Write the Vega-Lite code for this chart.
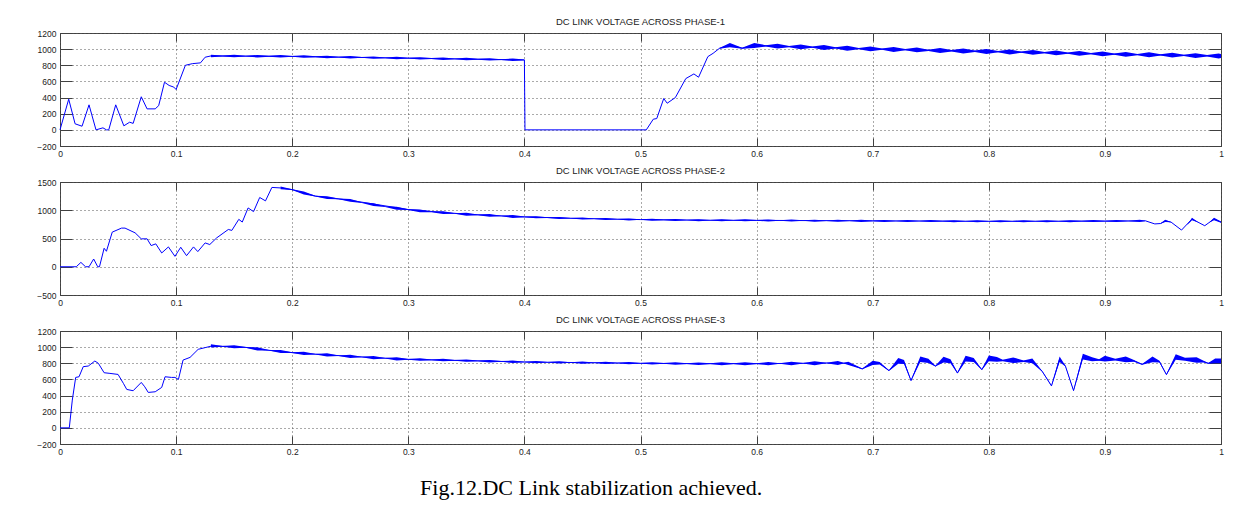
{
  "$schema": "https://vega.github.io/schema/vega-lite/v6.json",
  "background": "white",
  "padding": {"left": 36, "top": 16, "right": 20, "bottom": 10},
  "spacing": 7,
  "title": {"text": "Fig.12.DC Link stabilization achieved.", "orient": "bottom", "anchor": "middle", "font": "Liberation Serif", "fontSize": 22, "fontWeight": "normal", "color": "#000", "offset": 22, "dx": -39},
  "datasets": {
    "l1": [{"t":0,"v":0},{"t":0.0075,"v":380},{"t":0.013,"v":75},{"t":0.019,"v":45},{"t":0.025,"v":310},{"t":0.031,"v":0},{"t":0.037,"v":25},{"t":0.04,"v":0},{"t":0.042,"v":0},{"t":0.048,"v":310},{"t":0.055,"v":50},{"t":0.06,"v":95},{"t":0.063,"v":80},{"t":0.07,"v":410},{"t":0.075,"v":260},{"t":0.082,"v":260},{"t":0.085,"v":300},{"t":0.09,"v":590},{"t":0.094,"v":550},{"t":0.098,"v":530},{"t":0.1,"v":500},{"t":0.108,"v":800},{"t":0.114,"v":820},{"t":0.121,"v":830},{"t":0.125,"v":900},{"t":0.13,"v":916},{"t":0.2,"v":910},{"t":0.3,"v":888},{"t":0.4,"v":866},{"t":0.4005,"v":0},{"t":0.505,"v":0},{"t":0.511,"v":132},{"t":0.514,"v":140},{"t":0.52,"v":388},{"t":0.523,"v":330},{"t":0.53,"v":400},{"t":0.539,"v":635},{"t":0.546,"v":693},{"t":0.55,"v":652},{"t":0.558,"v":907},{"t":0.5625,"v":948},{"t":0.568,"v":1010},{"t":0.577,"v":1050},{"t":0.5875,"v":1012},{"t":0.598,"v":1045},{"t":0.7,"v":1002},{"t":0.8,"v":970},{"t":0.9,"v":940},{"t":1,"v":915}],
    "b1": [{"s":"a","t":0.13,"lo":901,"hi":931},{"s":"a","t":0.14,"lo":910,"hi":920},{"s":"a","t":0.15,"lo":899,"hi":929},{"s":"a","t":0.16,"lo":908,"hi":918},{"s":"a","t":0.17,"lo":897,"hi":927},{"s":"a","t":0.18,"lo":907,"hi":917},{"s":"a","t":0.19,"lo":896,"hi":926},{"s":"a","t":0.2,"lo":905,"hi":915},{"s":"a","t":0.21,"lo":893,"hi":923},{"s":"a","t":0.22,"lo":901,"hi":911},{"s":"a","t":0.23,"lo":888,"hi":918},{"s":"a","t":0.24,"lo":896,"hi":906},{"s":"a","t":0.25,"lo":884,"hi":914},{"s":"a","t":0.26,"lo":892,"hi":902},{"s":"a","t":0.27,"lo":880,"hi":910},{"s":"a","t":0.28,"lo":887,"hi":897},{"s":"a","t":0.29,"lo":875,"hi":905},{"s":"a","t":0.3,"lo":883,"hi":893},{"s":"a","t":0.31,"lo":871,"hi":901},{"s":"a","t":0.32,"lo":879,"hi":889},{"s":"a","t":0.33,"lo":866,"hi":896},{"s":"a","t":0.34,"lo":874,"hi":884},{"s":"a","t":0.35,"lo":862,"hi":892},{"s":"a","t":0.36,"lo":870,"hi":880},{"s":"a","t":0.37,"lo":858,"hi":888},{"s":"a","t":0.38,"lo":865,"hi":875},{"s":"a","t":0.39,"lo":853,"hi":883},{"s":"a","t":0.4,"lo":861,"hi":871},
      {"s":"b","t":0.568,"lo":1005,"hi":1015},{"s":"b","t":0.577,"lo":1025,"hi":1075},{"s":"b","t":0.5875,"lo":1006,"hi":1018},{"s":"b","t":0.598,"lo":1015,"hi":1075},{"s":"b","t":0.608,"lo":1033,"hi":1049},{"s":"b","t":0.618,"lo":1007,"hi":1067},{"s":"b","t":0.628,"lo":1024,"hi":1040},{"s":"b","t":0.638,"lo":998,"hi":1058},{"s":"b","t":0.648,"lo":1016,"hi":1032},{"s":"b","t":0.658,"lo":990,"hi":1050},{"s":"b","t":0.668,"lo":1007,"hi":1023},{"s":"b","t":0.678,"lo":981,"hi":1041},{"s":"b","t":0.688,"lo":999,"hi":1015},{"s":"b","t":0.698,"lo":973,"hi":1033},{"s":"b","t":0.708,"lo":991,"hi":1007},{"s":"b","t":0.718,"lo":966,"hi":1026},{"s":"b","t":0.728,"lo":985,"hi":1001},{"s":"b","t":0.738,"lo":960,"hi":1020},{"s":"b","t":0.748,"lo":978,"hi":994},{"s":"b","t":0.758,"lo":953,"hi":1013},{"s":"b","t":0.768,"lo":972,"hi":988},{"s":"b","t":0.778,"lo":947,"hi":1007},{"s":"b","t":0.788,"lo":966,"hi":982},{"s":"b","t":0.798,"lo":941,"hi":1001},{"s":"b","t":0.808,"lo":960,"hi":976},{"s":"b","t":0.818,"lo":935,"hi":995},{"s":"b","t":0.828,"lo":954,"hi":970},{"s":"b","t":0.838,"lo":929,"hi":989},{"s":"b","t":0.848,"lo":948,"hi":964},{"s":"b","t":0.858,"lo":923,"hi":983},{"s":"b","t":0.868,"lo":942,"hi":958},{"s":"b","t":0.878,"lo":917,"hi":977},{"s":"b","t":0.888,"lo":936,"hi":952},{"s":"b","t":0.898,"lo":911,"hi":971},{"s":"b","t":0.908,"lo":930,"hi":946},{"s":"b","t":0.918,"lo":905,"hi":965},{"s":"b","t":0.928,"lo":925,"hi":941},{"s":"b","t":0.938,"lo":900,"hi":960},{"s":"b","t":0.948,"lo":920,"hi":936},{"s":"b","t":0.958,"lo":895,"hi":955},{"s":"b","t":0.968,"lo":915,"hi":931},{"s":"b","t":0.978,"lo":890,"hi":950},{"s":"b","t":0.988,"lo":910,"hi":926},{"s":"b","t":0.998,"lo":885,"hi":945},{"s":"b","t":1,"lo":890,"hi":940}],
    "l2": [{"t":0,"v":0},{"t":0.014,"v":0},{"t":0.018,"v":77},{"t":0.022,"v":0},{"t":0.025,"v":0},{"t":0.029,"v":137},{"t":0.0325,"v":0},{"t":0.034,"v":0},{"t":0.038,"v":327},{"t":0.04,"v":274},{"t":0.045,"v":613},{"t":0.053,"v":684},{"t":0.056,"v":684},{"t":0.0647,"v":600},{"t":0.07,"v":494},{"t":0.075,"v":494},{"t":0.0785,"v":375},{"t":0.0825,"v":405},{"t":0.0876,"v":244},{"t":0.0934,"v":351},{"t":0.099,"v":184},{"t":0.104,"v":345},{"t":0.109,"v":196},{"t":0.115,"v":351},{"t":0.1187,"v":268},{"t":0.125,"v":422},{"t":0.129,"v":393},{"t":0.135,"v":512},{"t":0.145,"v":660},{"t":0.148,"v":643},{"t":0.154,"v":839},{"t":0.157,"v":791},{"t":0.162,"v":1041},{"t":0.1667,"v":976},{"t":0.172,"v":1226},{"t":0.177,"v":1166},{"t":0.1825,"v":1404},{"t":0.19,"v":1395},{"t":0.2,"v":1365},{"t":0.21,"v":1305},{"t":0.22,"v":1250},{"t":0.25,"v":1176},{"t":0.3,"v":1012},{"t":0.35,"v":929},{"t":0.4,"v":882},{"t":0.45,"v":853},{"t":0.5,"v":835},{"t":0.55,"v":824},{"t":0.6,"v":821},{"t":0.7,"v":812},{"t":0.8,"v":805},{"t":0.9,"v":808},{"t":0.935,"v":812},{"t":0.943,"v":758},{"t":0.948,"v":765},{"t":0.952,"v":812},{"t":0.957,"v":790},{"t":0.966,"v":649},{"t":0.975,"v":845},{"t":0.986,"v":726},{"t":0.994,"v":845},{"t":1,"v":790}],
    "b2": [{"s":"a","t":0.19,"lo":1370,"hi":1420},{"s":"a","t":0.2,"lo":1359,"hi":1371},{"s":"a","t":0.21,"lo":1280,"hi":1330},{"s":"a","t":0.22,"lo":1244,"hi":1256},{"s":"a","t":0.23,"lo":1200,"hi":1250},{"s":"a","t":0.24,"lo":1194,"hi":1206},{"s":"a","t":0.25,"lo":1151,"hi":1201},{"s":"a","t":0.26,"lo":1129,"hi":1141},{"s":"a","t":0.27,"lo":1075,"hi":1125},{"s":"a","t":0.28,"lo":1059,"hi":1071},{"s":"a","t":0.29,"lo":1010,"hi":1060},{"s":"a","t":0.3,"lo":1006,"hi":1018},{"s":"a","t":0.31,"lo":965,"hi":1015},{"s":"a","t":0.32,"lo":966,"hi":978},{"s":"a","t":0.33,"lo":932,"hi":982},{"s":"a","t":0.34,"lo":936,"hi":948},{"s":"a","t":0.35,"lo":904,"hi":954},{"s":"a","t":0.36,"lo":912,"hi":924},{"s":"a","t":0.37,"lo":883,"hi":933},{"s":"a","t":0.38,"lo":892,"hi":904},{"s":"a","t":0.39,"lo":865,"hi":915},{"s":"a","t":0.4,"lo":876,"hi":888},{"s":"a","t":0.41,"lo":858,"hi":894},{"s":"a","t":0.42,"lo":865,"hi":875},{"s":"a","t":0.43,"lo":846,"hi":882},{"s":"a","t":0.44,"lo":853,"hi":863},{"s":"a","t":0.45,"lo":835,"hi":871},{"s":"a","t":0.46,"lo":844,"hi":854},{"s":"a","t":0.47,"lo":827,"hi":863},{"s":"a","t":0.48,"lo":836,"hi":846},{"s":"a","t":0.49,"lo":820,"hi":856},{"s":"a","t":0.5,"lo":830,"hi":840},{"s":"a","t":0.51,"lo":815,"hi":851},{"s":"a","t":0.52,"lo":825,"hi":835},{"s":"a","t":0.53,"lo":810,"hi":846},{"s":"a","t":0.54,"lo":821,"hi":831},{"s":"a","t":0.55,"lo":806,"hi":842},{"s":"a","t":0.56,"lo":818,"hi":828},{"s":"a","t":0.57,"lo":805,"hi":841},{"s":"a","t":0.58,"lo":817,"hi":827},{"s":"a","t":0.59,"lo":804,"hi":840},{"s":"a","t":0.6,"lo":816,"hi":826},{"s":"a","t":0.61,"lo":802,"hi":838},{"s":"a","t":0.62,"lo":814,"hi":824},{"s":"a","t":0.63,"lo":800,"hi":836},{"s":"a","t":0.64,"lo":812,"hi":822},{"s":"a","t":0.65,"lo":798,"hi":834},{"s":"a","t":0.66,"lo":810,"hi":820},{"s":"a","t":0.67,"lo":796,"hi":832},{"s":"a","t":0.68,"lo":808,"hi":818},{"s":"a","t":0.69,"lo":794,"hi":830},{"s":"a","t":0.7,"lo":807,"hi":817},{"s":"a","t":0.71,"lo":793,"hi":829},{"s":"a","t":0.72,"lo":805,"hi":815},{"s":"a","t":0.73,"lo":792,"hi":828},{"s":"a","t":0.74,"lo":804,"hi":814},{"s":"a","t":0.75,"lo":790,"hi":826},{"s":"a","t":0.76,"lo":803,"hi":813},{"s":"a","t":0.77,"lo":789,"hi":825},{"s":"a","t":0.78,"lo":801,"hi":811},{"s":"a","t":0.79,"lo":788,"hi":824},{"s":"a","t":0.8,"lo":800,"hi":810},{"s":"a","t":0.81,"lo":787,"hi":823},{"s":"a","t":0.82,"lo":800,"hi":810},{"s":"a","t":0.83,"lo":788,"hi":824},{"s":"a","t":0.84,"lo":801,"hi":811},{"s":"a","t":0.85,"lo":788,"hi":824},{"s":"a","t":0.86,"lo":801,"hi":811},{"s":"a","t":0.87,"lo":789,"hi":825},{"s":"a","t":0.88,"lo":802,"hi":812},{"s":"a","t":0.89,"lo":790,"hi":826},{"s":"a","t":0.9,"lo":803,"hi":813},{"s":"a","t":0.91,"lo":791,"hi":827},{"s":"a","t":0.92,"lo":805,"hi":815},{"s":"a","t":0.93,"lo":794,"hi":830},{"s":"a","t":0.935,"lo":808,"hi":816},
      {"s":"c","t":0.948,"lo":762,"hi":768},{"s":"c","t":0.952,"lo":792,"hi":832},{"s":"c","t":0.957,"lo":787,"hi":793},
      {"s":"d","t":0.971,"lo":737,"hi":743},{"s":"d","t":0.975,"lo":823,"hi":867},{"s":"d","t":0.98,"lo":788,"hi":794},
      {"s":"e","t":0.99,"lo":782,"hi":788},{"s":"e","t":0.994,"lo":823,"hi":867},{"s":"e","t":1,"lo":778,"hi":802}],
    "l3": [{"t":0,"v":0},{"t":0.008,"v":0},{"t":0.0106,"v":344},{"t":0.0135,"v":625},{"t":0.0164,"v":633},{"t":0.02,"v":758},{"t":0.0244,"v":766},{"t":0.03,"v":828},{"t":0.033,"v":800},{"t":0.038,"v":683},{"t":0.043,"v":675},{"t":0.05,"v":662},{"t":0.0546,"v":551},{"t":0.0575,"v":476},{"t":0.063,"v":460},{"t":0.07,"v":563},{"t":0.073,"v":509},{"t":0.076,"v":439},{"t":0.082,"v":447},{"t":0.0876,"v":501},{"t":0.0905,"v":633},{"t":0.096,"v":625},{"t":0.099,"v":625},{"t":0.102,"v":600},{"t":0.106,"v":840},{"t":0.112,"v":873},{"t":0.119,"v":973},{"t":0.125,"v":994},{"t":0.131,"v":1015},{"t":0.15,"v":1005},{"t":0.16,"v":997},{"t":0.177,"v":965},{"t":0.2,"v":932},{"t":0.25,"v":886},{"t":0.3,"v":849},{"t":0.35,"v":833},{"t":0.4,"v":816},{"t":0.45,"v":808},{"t":0.5,"v":800},{"t":0.55,"v":795},{"t":0.6,"v":795},{"t":0.64,"v":800},{"t":0.66,"v":803},{"t":0.679,"v":800},{"t":0.691,"v":730},{"t":0.7,"v":805},{"t":0.706,"v":800},{"t":0.714,"v":710},{"t":0.722,"v":830},{"t":0.727,"v":815},{"t":0.733,"v":586},{"t":0.741,"v":850},{"t":0.748,"v":830},{"t":0.754,"v":765},{"t":0.761,"v":845},{"t":0.767,"v":825},{"t":0.773,"v":680},{"t":0.78,"v":857},{"t":0.787,"v":840},{"t":0.794,"v":722},{"t":0.8,"v":860},{"t":0.807,"v":849},{"t":0.812,"v":835},{"t":0.821,"v":837},{"t":0.83,"v":825},{"t":0.8375,"v":830},{"t":0.846,"v":700},{"t":0.854,"v":520},{"t":0.861,"v":850},{"t":0.866,"v":765},{"t":0.873,"v":461},{"t":0.881,"v":882},{"t":0.889,"v":849},{"t":0.895,"v":840},{"t":0.9,"v":857},{"t":0.909,"v":845},{"t":0.918,"v":849},{"t":0.925,"v":830},{"t":0.932,"v":787},{"t":0.941,"v":849},{"t":0.947,"v":820},{"t":0.953,"v":660},{"t":0.961,"v":878},{"t":0.969,"v":850},{"t":0.979,"v":841},{"t":0.985,"v":820},{"t":0.989,"v":800},{"t":0.995,"v":830},{"t":1,"v":830}],
    "b3": [{"s":"a","t":0.13,"lo":995,"hi":1035},{"s":"a","t":0.14,"lo":1006,"hi":1014},{"s":"a","t":0.15,"lo":985,"hi":1025},{"s":"a","t":0.16,"lo":993,"hi":1001},{"s":"a","t":0.17,"lo":958,"hi":998},{"s":"a","t":0.18,"lo":957,"hi":965},{"s":"a","t":0.19,"lo":926,"hi":966},{"s":"a","t":0.2,"lo":928,"hi":936},{"s":"a","t":0.21,"lo":902,"hi":942},{"s":"a","t":0.22,"lo":908,"hi":916},{"s":"a","t":0.23,"lo":883,"hi":923},{"s":"a","t":0.24,"lo":890,"hi":898},{"s":"a","t":0.25,"lo":866,"hi":906},{"s":"a","t":0.26,"lo":874,"hi":882},{"s":"a","t":0.27,"lo":850,"hi":890},{"s":"a","t":0.28,"lo":858,"hi":866},{"s":"a","t":0.29,"lo":835,"hi":875},{"s":"a","t":0.3,"lo":845,"hi":853},{"s":"a","t":0.31,"lo":831,"hi":861},{"s":"a","t":0.32,"lo":839,"hi":847},{"s":"a","t":0.33,"lo":825,"hi":855},{"s":"a","t":0.34,"lo":832,"hi":840},{"s":"a","t":0.35,"lo":818,"hi":848},{"s":"a","t":0.36,"lo":825,"hi":833},{"s":"a","t":0.37,"lo":811,"hi":841},{"s":"a","t":0.38,"lo":819,"hi":827},{"s":"a","t":0.39,"lo":804,"hi":834},{"s":"a","t":0.4,"lo":812,"hi":820},{"s":"a","t":0.41,"lo":799,"hi":829},{"s":"a","t":0.42,"lo":809,"hi":817},{"s":"a","t":0.43,"lo":796,"hi":826},{"s":"a","t":0.44,"lo":806,"hi":814},{"s":"a","t":0.45,"lo":793,"hi":823},{"s":"a","t":0.46,"lo":802,"hi":810},{"s":"a","t":0.47,"lo":790,"hi":820},{"s":"a","t":0.48,"lo":799,"hi":807},{"s":"a","t":0.49,"lo":787,"hi":817},{"s":"a","t":0.5,"lo":796,"hi":804},{"s":"a","t":0.51,"lo":784,"hi":814},{"s":"a","t":0.52,"lo":794,"hi":802},{"s":"a","t":0.53,"lo":782,"hi":812},{"s":"a","t":0.54,"lo":792,"hi":800},{"s":"a","t":0.55,"lo":780,"hi":810},{"s":"a","t":0.56,"lo":791,"hi":799},{"s":"a","t":0.57,"lo":777,"hi":813},{"s":"a","t":0.58,"lo":791,"hi":799},{"s":"a","t":0.59,"lo":777,"hi":813},{"s":"a","t":0.6,"lo":791,"hi":799},{"s":"a","t":0.61,"lo":776,"hi":816},{"s":"a","t":0.62,"lo":793,"hi":801},{"s":"a","t":0.63,"lo":776,"hi":820},{"s":"a","t":0.64,"lo":796,"hi":804},{"s":"a","t":0.65,"lo":777,"hi":825},{"s":"a","t":0.66,"lo":799,"hi":807},{"s":"a","t":0.67,"lo":779,"hi":827},{"s":"a","t":0.675,"lo":798,"hi":806},{"s":"a","t":0.679,"lo":780,"hi":820},{"s":"a","t":0.691,"lo":725,"hi":735},{"s":"a","t":0.7,"lo":780,"hi":830},{"s":"a","t":0.706,"lo":785,"hi":815},{"s":"a","t":0.714,"lo":705,"hi":715},{"s":"a","t":0.722,"lo":795,"hi":865},{"s":"a","t":0.727,"lo":790,"hi":840},{"s":"a","t":0.733,"lo":581,"hi":591},{"s":"a","t":0.741,"lo":815,"hi":885},{"s":"a","t":0.748,"lo":805,"hi":855},{"s":"a","t":0.754,"lo":760,"hi":770},{"s":"a","t":0.761,"lo":810,"hi":880},{"s":"a","t":0.767,"lo":800,"hi":850},{"s":"a","t":0.773,"lo":675,"hi":685},{"s":"a","t":0.78,"lo":822,"hi":892},{"s":"a","t":0.787,"lo":815,"hi":865},{"s":"a","t":0.794,"lo":717,"hi":727},{"s":"a","t":0.8,"lo":825,"hi":895},{"s":"a","t":0.807,"lo":819,"hi":879},{"s":"a","t":0.812,"lo":825,"hi":845},{"s":"a","t":0.821,"lo":802,"hi":872},{"s":"a","t":0.83,"lo":815,"hi":835},{"s":"a","t":0.8375,"lo":800,"hi":860},{"s":"a","t":0.846,"lo":695,"hi":705},{"s":"a","t":0.854,"lo":515,"hi":525},{"s":"a","t":0.861,"lo":815,"hi":885},{"s":"a","t":0.866,"lo":760,"hi":770},{"s":"a","t":0.873,"lo":456,"hi":466},{"s":"a","t":0.881,"lo":847,"hi":917},{"s":"a","t":0.889,"lo":824,"hi":874},{"s":"a","t":0.895,"lo":830,"hi":850},{"s":"a","t":0.9,"lo":822,"hi":892},{"s":"a","t":0.909,"lo":835,"hi":855},{"s":"a","t":0.918,"lo":814,"hi":884},{"s":"a","t":0.925,"lo":820,"hi":840},{"s":"a","t":0.932,"lo":782,"hi":792},{"s":"a","t":0.941,"lo":814,"hi":884},{"s":"a","t":0.947,"lo":810,"hi":830},{"s":"a","t":0.953,"lo":655,"hi":665},{"s":"a","t":0.961,"lo":843,"hi":913},{"s":"a","t":0.969,"lo":830,"hi":870},{"s":"a","t":0.979,"lo":806,"hi":876},{"s":"a","t":0.985,"lo":810,"hi":830},{"s":"a","t":0.989,"lo":795,"hi":805},{"s":"a","t":0.995,"lo":800,"hi":860},{"s":"a","t":1,"lo":800,"hi":860}]
  },
  "config": {
    "view": {"stroke": "#404040", "strokeWidth": 1},
    "axis": {"labelFont": "Liberation Sans", "labelFontSize": 8.5, "labelColor": "#222", "tickColor": "#404040", "domain": false, "title": null, "gridColor": "#555", "gridDash": [1, 3], "gridOpacity": 1, "gridWidth": 1, "labelFlush": false},
    "title": {"font": "Liberation Sans", "fontSize": 9.5, "fontWeight": "normal", "color": "#222", "offset": 3, "anchor": "middle"}
  },
  "vconcat": [
    {
      "title": "DC LINK VOLTAGE ACROSS PHASE-1",
      "width": 1161, "height": 113,
      "resolve": {"axis": {"x": "independent", "y": "independent"}},
      "layer": [
        {"data": {"name": "b1"}, "mark": {"type": "area", "color": "#0000ff", "opacity": 1},
         "encoding": {
           "x": {"field": "t", "type": "quantitative", "scale": {"domain": [0, 1], "nice": false}, "axis": {"orient": "top", "values": [0,0.1,0.2,0.3,0.4,0.5,0.6,0.7,0.8,0.9,1], "grid": false, "labels": false, "tickSize": -8}},
           "y": {"field": "lo", "type": "quantitative", "scale": {"domain": [-200, 1200], "nice": false}, "axis": {"orient": "right", "values": [-200,0,200,400,600,800,1000,1200], "grid": false, "labels": false, "tickSize": -12}},
           "y2": {"field": "hi"},
           "detail": {"field": "s"}}},
        {"data": {"name": "l1"}, "mark": {"type": "line", "color": "#0000ff", "strokeWidth": 1},
         "encoding": {
           "x": {"field": "t", "type": "quantitative", "scale": {"domain": [0, 1], "nice": false}, "axis": {"orient": "bottom", "values": [0,0.1,0.2,0.3,0.4,0.5,0.6,0.7,0.8,0.9,1], "grid": true, "tickSize": -8, "labelPadding": 11, "format": "~g"}},
           "y": {"field": "v", "type": "quantitative", "scale": {"domain": [-200, 1200], "nice": false}, "axis": {"orient": "left", "values": [-200,0,200,400,600,800,1000,1200], "grid": true, "tickSize": -12, "labelPadding": 16, "format": "d"}}}}
      ]
    },
    {
      "title": "DC LINK VOLTAGE ACROSS PHASE-2",
      "width": 1161, "height": 113,
      "resolve": {"axis": {"x": "independent", "y": "independent"}},
      "layer": [
        {"data": {"name": "b2"}, "mark": {"type": "area", "color": "#0000ff", "opacity": 1},
         "encoding": {
           "x": {"field": "t", "type": "quantitative", "scale": {"domain": [0, 1], "nice": false}, "axis": {"orient": "top", "values": [0,0.1,0.2,0.3,0.4,0.5,0.6,0.7,0.8,0.9,1], "grid": false, "labels": false, "tickSize": -8}},
           "y": {"field": "lo", "type": "quantitative", "scale": {"domain": [-500, 1500], "nice": false}, "axis": {"orient": "right", "values": [-500,0,500,1000,1500], "grid": false, "labels": false, "tickSize": -12}},
           "y2": {"field": "hi"},
           "detail": {"field": "s"}}},
        {"data": {"name": "l2"}, "mark": {"type": "line", "color": "#0000ff", "strokeWidth": 1},
         "encoding": {
           "x": {"field": "t", "type": "quantitative", "scale": {"domain": [0, 1], "nice": false}, "axis": {"orient": "bottom", "values": [0,0.1,0.2,0.3,0.4,0.5,0.6,0.7,0.8,0.9,1], "grid": true, "tickSize": -8, "labelPadding": 11, "format": "~g"}},
           "y": {"field": "v", "type": "quantitative", "scale": {"domain": [-500, 1500], "nice": false}, "axis": {"orient": "left", "values": [-500,0,500,1000,1500], "grid": true, "tickSize": -12, "labelPadding": 16, "format": "d"}}}}
      ]
    },
    {
      "title": "DC LINK VOLTAGE ACROSS PHASE-3",
      "width": 1161, "height": 113,
      "resolve": {"axis": {"x": "independent", "y": "independent"}},
      "layer": [
        {"data": {"name": "b3"}, "mark": {"type": "area", "color": "#0000ff", "opacity": 1},
         "encoding": {
           "x": {"field": "t", "type": "quantitative", "scale": {"domain": [0, 1], "nice": false}, "axis": {"orient": "top", "values": [0,0.1,0.2,0.3,0.4,0.5,0.6,0.7,0.8,0.9,1], "grid": false, "labels": false, "tickSize": -8}},
           "y": {"field": "lo", "type": "quantitative", "scale": {"domain": [-200, 1200], "nice": false}, "axis": {"orient": "right", "values": [-200,0,200,400,600,800,1000,1200], "grid": false, "labels": false, "tickSize": -12}},
           "y2": {"field": "hi"},
           "detail": {"field": "s"}}},
        {"data": {"name": "l3"}, "mark": {"type": "line", "color": "#0000ff", "strokeWidth": 1},
         "encoding": {
           "x": {"field": "t", "type": "quantitative", "scale": {"domain": [0, 1], "nice": false}, "axis": {"orient": "bottom", "values": [0,0.1,0.2,0.3,0.4,0.5,0.6,0.7,0.8,0.9,1], "grid": true, "tickSize": -8, "labelPadding": 11, "format": "~g"}},
           "y": {"field": "v", "type": "quantitative", "scale": {"domain": [-200, 1200], "nice": false}, "axis": {"orient": "left", "values": [-200,0,200,400,600,800,1000,1200], "grid": true, "tickSize": -12, "labelPadding": 16, "format": "d"}}}}
      ]
    }
  ]
}
